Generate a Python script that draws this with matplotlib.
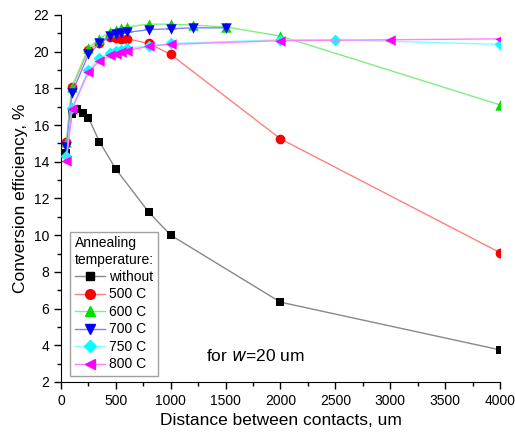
import matplotlib
matplotlib.use('Agg')
import matplotlib.pyplot as plt
from matplotlib.lines import Line2D
from matplotlib.ticker import MultipleLocator

plt.rcParams['font.family'] = ['Liberation Sans', 'DejaVu Sans']

# data
x_without = [50, 100, 150, 200, 250, 350, 500, 800, 1000, 2000, 4000]
y_without = [14.5, 16.6, 16.85, 16.65, 16.4, 15.1, 13.6, 11.25, 10.0, 6.35, 3.75]

x_500 = [50, 100, 250, 350, 450, 500, 550, 600, 800, 1000, 2000, 4000]
y_500 = [15.1, 18.05, 20.1, 20.5, 20.8, 20.75, 20.7, 20.7, 20.45, 19.85, 15.25, 9.05]

x_600 = [50, 100, 250, 350, 450, 500, 550, 600, 800, 1000, 1200, 1500, 2000, 4000]
y_600 = [15.1, 18.1, 20.2, 20.7, 21.1, 21.2, 21.3, 21.35, 21.5, 21.5, 21.45, 21.35, 20.85, 17.1]

x_700 = [50, 100, 250, 350, 450, 500, 550, 600, 800, 1000, 1200, 1500]
y_700 = [14.8, 17.75, 19.85, 20.45, 20.85, 20.95, 21.0, 21.05, 21.2, 21.25, 21.3, 21.3]

x_750 = [50, 100, 250, 350, 450, 500, 550, 600, 800, 1000, 2000, 2500, 4000]
y_750 = [14.3, 16.95, 19.0, 19.65, 19.95, 20.05, 20.1, 20.2, 20.3, 20.45, 20.65, 20.65, 20.4]

x_800 = [50, 100, 250, 350, 450, 500, 550, 600, 800, 1000, 2000, 3000, 4000]
y_800 = [14.05, 16.85, 18.9, 19.5, 19.8, 19.9, 20.0, 20.05, 20.3, 20.4, 20.6, 20.65, 20.7]

series = [
    ('without', x_without, y_without, 's', 'black', '#888888', 6.2),
    ('500 C', x_500, y_500, 'o', 'red', '#ff8080', 7),
    ('600 C', x_600, y_600, '^', '#00dd00', '#80ee80', 7.5),
    ('700 C', x_700, y_700, 'v', 'blue', '#8080ff', 7.5),
    ('750 C', x_750, y_750, 'D', 'cyan', '#80ffff', 6),
    ('800 C', x_800, y_800, '<', 'magenta', '#ff80ff', 7.5),
]

fig = plt.figure(figsize=(5.15, 4.41), dpi=100)
ax = fig.add_axes([0.1184, 0.1338, 0.8525, 0.8322])

handles = []
z = 2
for name, xs, ys, mk, mc, lc, ms in series:
    ax.plot(xs, ys, color=lc, lw=1.0, zorder=z)
    # scatter gets clipped at the axes edge like the original
    ax.scatter(xs, ys, s=ms ** 2, marker=mk, c=mc, linewidths=0, zorder=z + 0.5)
    handles.append(Line2D([], [], color=lc, lw=1.0, marker=mk, markersize=ms,
                          markerfacecolor=mc, markeredgecolor=mc, label=name))
    z += 1

ax.set_xlim(0, 4000)
ax.set_ylim(2, 22)
ax.xaxis.set_major_locator(MultipleLocator(500))
ax.xaxis.set_minor_locator(MultipleLocator(250))
ax.yaxis.set_major_locator(MultipleLocator(2))
ax.yaxis.set_minor_locator(MultipleLocator(1))
ax.tick_params(which='major', direction='out', length=5, width=1, labelsize=10)
ax.tick_params(which='minor', direction='out', length=3, width=1)
ax.spines['top'].set_visible(False)
ax.spines['right'].set_visible(False)

ax.set_xlabel('Distance between contacts, um', fontsize=12.5)
ax.set_ylabel('Conversion efficiency, %', fontsize=12.5)

leg = ax.legend(handles=handles, title='Annealing\ntemperature:', loc='lower left',
                bbox_to_anchor=(0.015, 0.01), fontsize=10, title_fontsize=10,
                frameon=True, fancybox=False, edgecolor='#888888',
                handlelength=2.2, handletextpad=0.3, borderpad=0.3,
                labelspacing=0.25, borderaxespad=0.2)
leg._legend_box.align = 'left'
leg.get_frame().set_linewidth(1.0)
leg.set_zorder(20)

ax.text(0.33, 0.05, 'for $\\it{w}$=20 um', transform=ax.transAxes,
        fontsize=12.5, ha='left', va='bottom')

fig.savefig('out.png', dpi=100)
